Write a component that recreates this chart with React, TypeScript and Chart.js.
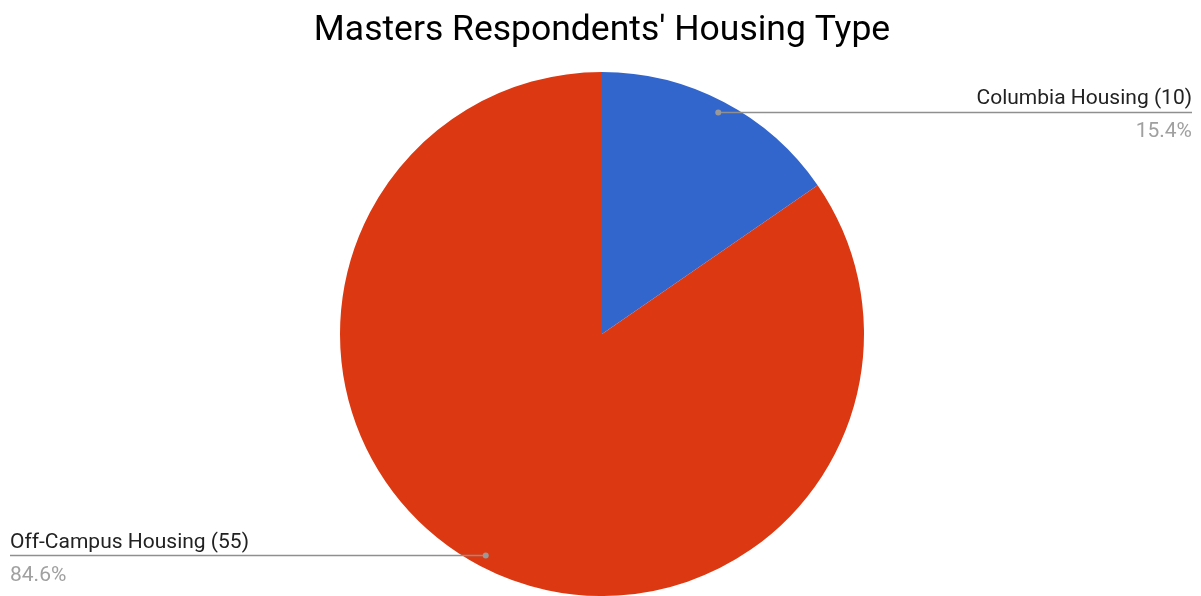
import React, { useEffect, useRef } from "react";
import { Chart, registerables } from "chart.js";

Chart.register(...registerables);

const title = "Masters Respondents' Housing Type";
const categories = ["Columbia Housing", "Off-Campus Housing"];
const values = [10, 55];
const colors = ["#3366CC", "#DC3912"];

const FONT = "Roboto, 'Noto Sans', sans-serif";

const labelPlugin = {
  id: "sideLabels",
  afterDraw(chart: any) {
    const ctx = chart.ctx as CanvasRenderingContext2D;
    const W = chart.width;
    ctx.save();
    // title
    ctx.fillStyle = "#000000";
    ctx.font = `35.5px ${FONT}`;
    ctx.textAlign = "center";
    ctx.textBaseline = "alphabetic";
    ctx.fillText(title, 602, 40);

    const meta = chart.getDatasetMeta(0);
    const total = values.reduce((a, b) => a + b, 0);
    meta.data.forEach((arc: any, i: number) => {
      const p = arc.getProps(["x", "y", "startAngle", "endAngle", "outerRadius"], true);
      const mid = (p.startAngle + p.endAngle) / 2;
      const r = p.outerRadius * 0.955;
      const dx = p.x + Math.cos(mid) * r;
      const dy = p.y + Math.sin(mid) * r;
      const right = Math.cos(mid) >= 0;
      const endX = right ? W - 9 : 10;
      ctx.strokeStyle = "#8f8f8f";
      ctx.lineWidth = 1.5;
      ctx.beginPath();
      ctx.moveTo(dx, dy);
      ctx.lineTo(endX, dy);
      ctx.stroke();
      ctx.fillStyle = "#999999";
      ctx.beginPath();
      ctx.arc(dx, dy, 3, 0, Math.PI * 2);
      ctx.fill();

      ctx.textAlign = right ? "right" : "left";
      ctx.textBaseline = "alphabetic";
      ctx.font = `21px ${FONT}`;
      ctx.fillStyle = "#222222";
      ctx.fillText(`${categories[i]} (${values[i]})`, endX, dy - 8);
      ctx.fillStyle = "#a0a0a0";
      ctx.fillText(`${((values[i] / total) * 100).toFixed(1)}%`, endX, dy + 25);
    });
    ctx.restore();
  },
};

export default function App() {
  const ref = useRef<HTMLCanvasElement | null>(null);
  useEffect(() => {
    document.body.style.margin = "0";
    const chart = new Chart(ref.current as HTMLCanvasElement, {
      type: "pie",
      data: {
        labels: categories,
        datasets: [
          {
            data: values,
            backgroundColor: colors,
            borderWidth: 0,
          },
        ],
      },
      options: {
        responsive: false,
        animation: false,
        layout: { padding: { top: 72, bottom: 0, left: 3, right: 0 } },
        plugins: {
          legend: { display: false },
          tooltip: { enabled: false },
          title: { display: false },
        },
      },
      plugins: [labelPlugin],
    });
    return () => chart.destroy();
  }, []);
  return (
    <div style={{ width: 1201, height: 596, background: "#fff" }}>
      <canvas ref={ref} width={1201} height={596} style={{ display: "block" }} />
    </div>
  );
}
